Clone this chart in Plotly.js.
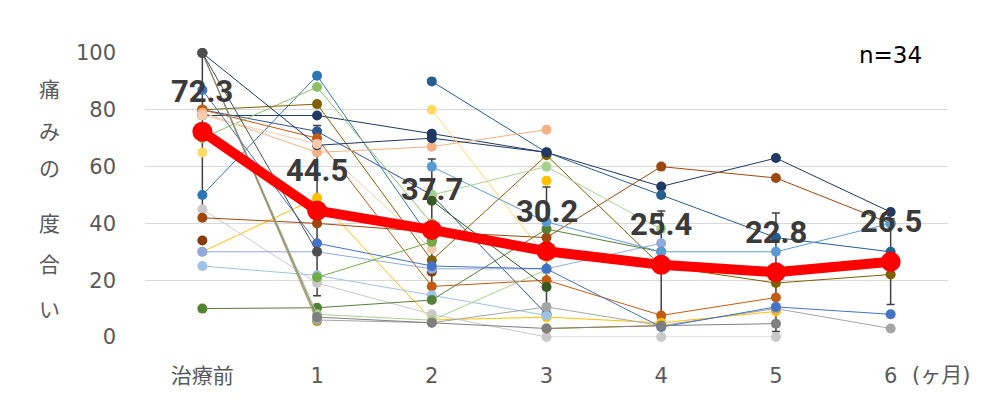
<!DOCTYPE html>
<html>
<head>
<meta charset="utf-8">
<script src="https://cdn.plot.ly/plotly-3.0.1.min.js"></script>
<style>html,body{margin:0;padding:0;background:#fff}#chart{width:1000px;height:420px}</style>
</head>
<body>
<div id="chart"></div>
<script>
const categories = ['治療前', '1', '2', '3', '4', '5', '6'];
const xUnit = '(ヶ月)';
const nLabel = 'n=34';
const yTitleChars = ['痛', 'み', 'の', '度', '合', 'い'];

const means = [72.3, 44.5, 37.7, 30.2, 25.4, 22.8, 26.5];
const sds = [27, 30, 25, 22.6, 19, 20.9, 15.1];

// individual patients (null = no measurement)
const p01 = [78, 78, 71.6, 65, 53, 63, 44];
const p02 = [null, null, 90, 65, 50, 35, 30];
const p03 = [80, 72.4, 50, 8, null, null, null];
const p04 = [50, 92, 34, null, null, null, null];
const p05 = [70, 88, 40, null, null, null, null];
const p06 = [80, 82, 27, 64, 25, 19, 22];
const p07 = [80, 70, 17.8, 20, 7.6, 13.9, null];
const p08 = [79, 65, 67, 73, null, null, null];
const p09 = [100, 67.5, 70, 65, null, null, null];
const p10 = [78, 68, 31, null, null, null, null];
const p11 = [30, 49, 6, 7, 5, 9, null];
const p12 = [65, null, 80, 28, null, null, null];
const p13 = [null, null, null, 55, null, null, null];
const p14 = [45, 19, 8, 0, 0, 0, null];
const p15 = [42, 40, 37, 35, 60, 56, 40];
const p16 = [34, null, 23, null, null, null, null];
const p17 = [30, 30, 24, 24, 33, null, null];
const p19 = [25, 21.7, 14.7, 7.6, null, null, null];
const p20 = [10, 10.3, 13, 38, 30, null, null];
const p21 = [100, 8, 5.9, 23.7, null, null, null];
const p22 = [100, 5.6, null, 3, 4, null, null];
const p23 = [null, 21, 33.5, null, null, null, null];
const p24 = [100, 6, 5, 10.6, 4, 10, 3];
const p25 = [87, 33, 25, 24, 3.5, 10.6, 8];
const p26 = [null, null, 60, 40.5, 30, 30, 40];
const p27 = [null, null, 50, 60, 38, null, null];
const p28 = [null, null, 48, 17.6, null, null, null];
const p29 = [100, 7, 5, 3, 4, 4.7, null];
const p18 = [100, 30, null, null, null, null, null];

const patients = [p01,p02,p03,p04,p05,p06,p07,p08,p09,p10,p11,p12,p13,p14,p15,p16,p17,p19,p20,p21,p22,p23,p24,p25,p26,p27,p28,p29,p18];
const colors = ['#203864','#255E91','#2F5597','#2E75B6','#8CC168','#7F6000','#C55A11','#F4B183','#1F3864','#F8CBAD',
  '#FFC000','#FFD966','#FFC000','#C9C9C9','#9E480E','#843C0C','#8FAADC','#9DC3E6','#548235',
  '#A9D18E','#BF9000','#70AD47','#A5A5A5','#4472C4','#5B9BD5','#A9D18E','#385723','#7F7F7F','#4D4D4D'];

const xs = categories.map((c, i) => i);
const traces = [];

// error bars (drawn beneath individual markers)
traces.push({
  x: xs, y: means, type: 'scatter', mode: 'markers',
  marker: {size: 1, color: 'rgba(0,0,0,0)'},
  error_y: {type: 'data', array: sds, visible: true, color: '#404040', thickness: 1.5, width: 4},
  hoverinfo: 'skip', showlegend: false
});

patients.forEach((p, k) => {
  traces.push({
    x: xs, y: p, type: 'scatter', mode: 'lines+markers',
    line: {color: colors[k], width: 1},
    marker: {color: colors[k], size: 10},
    connectgaps: false, showlegend: false, cliponaxis: false
  });
});

traces.push({
  x: xs, y: means, type: 'scatter', mode: 'lines+markers',
  line: {color: '#FF0000', width: 10},
  marker: {color: '#FF0000', size: 20},
  showlegend: false, cliponaxis: false
});

const annotations = means.map((m, i) => ({
  x: i, y: m, xref: 'x', yref: 'y', text: m.toFixed(1), showarrow: false,
  yshift: 40, font: {family: 'Roboto, sans-serif', size: 31, color: '#3A3A3A', weight: 'bold'}
}));
const yCharPos = [87.7, 72.9, 59.9, 40.5, 26, 10.2];
yTitleChars.forEach((ch, i) => annotations.push({
  x: -0.1345, xref: 'paper', y: yCharPos[i], yref: 'y', text: ch, showarrow: false,
  font: {family: 'Noto Sans CJK JP', size: 21, color: '#595959'}
}));
annotations.push({
  x: 6.17, xref: 'x', y: -0.134, yref: 'paper', text: xUnit, showarrow: false,
  xanchor: 'left', yanchor: 'middle',
  font: {family: 'DejaVu Sans, Noto Sans CJK JP', size: 21, color: '#595959'}
});
annotations.push({
  x: 6, xref: 'x', y: 1.046, yref: 'paper', text: nLabel, showarrow: false,
  font: {family: 'DejaVu Sans', size: 23, color: '#000000'}
});

const layout = {
  width: 1000, height: 420,
  margin: {l: 145, r: 52, t: 53, b: 83},
  paper_bgcolor: '#ffffff', plot_bgcolor: '#ffffff',
  font: {family: 'DejaVu Sans, Noto Sans CJK JP', size: 21, color: '#595959'},
  showlegend: false,
  xaxis: {
    range: [-0.5, 6.5], tickvals: xs, ticktext: categories,
    showgrid: false, zeroline: false, showline: false, ticks: '',
    ticklabelstandoff: 24,
    tickfont: {family: 'DejaVu Sans, Noto Sans CJK JP', size: 21, color: '#595959'}
  },
  yaxis: {
    range: [0, 100], dtick: 20, tick0: 0,
    showgrid: true, gridcolor: '#D9D9D9', gridwidth: 1,
    zeroline: false, showline: false, ticks: '',
    ticklabelstandoff: 28,
    tickfont: {family: 'DejaVu Sans', size: 21, color: '#595959'}
  },
  annotations: annotations
};

Plotly.newPlot('chart', traces, layout, {staticPlot: true, displayModeBar: false});
</script>
</body>
</html>
